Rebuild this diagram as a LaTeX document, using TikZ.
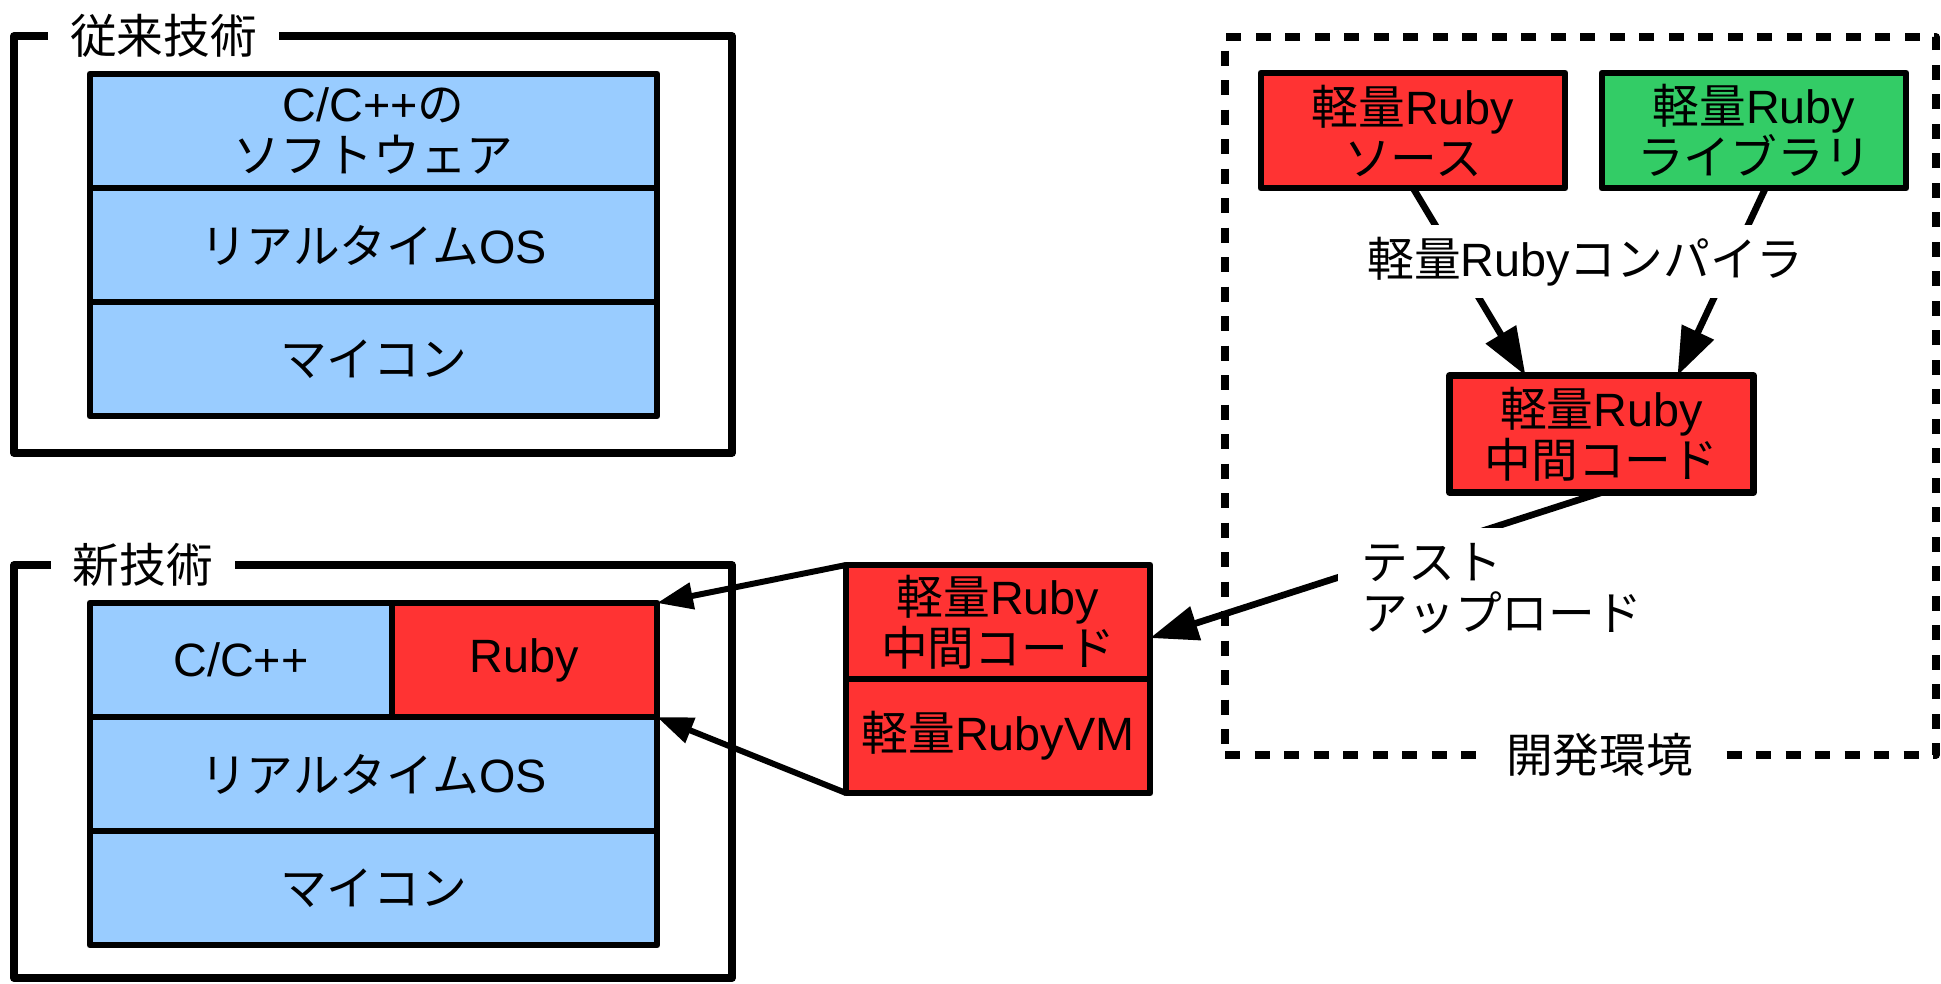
\documentclass[tikz,border=0pt]{standalone}
\usepackage{fontspec}
\setmainfont{Liberation Sans}
\newfontfamily\jp{Noto Sans CJK JP}
\usetikzlibrary{arrows.meta, positioning, calc}
\definecolor{layerblue}{HTML}{99CCFF}
\definecolor{rubyred}{HTML}{FF3333}
\definecolor{libgreen}{HTML}{33CC66}
\tikzset{
  layer/.style = {draw, line width=1.9pt, fill=layerblue, outer sep=0pt,
                  inner sep=0pt, align=center, minimum width=5.67cm,
                  minimum height=1.14cm, line join=round},
  part/.style  = {layer, fill=rubyred, minimum width=3.04cm},
  frame/.style = {draw, line width=2.2pt, line join=round, outer sep=0pt},
  title/.style = {fill=white, inner xsep=0.22cm, inner ysep=1pt},
  tag/.style   = {fill=white, align=left},
  flow/.style  = {-{Triangle[length=4.8mm, width=3.4mm]}, line width=1.9pt},
  feed/.style  = {-{Triangle[length=3.6mm, width=2.6mm]}, line width=1.7pt}
}

\begin{document}
\begin{tikzpicture}[font=\fontsize{13.3}{14.5}\selectfont]
\useasboundingbox (0,0) rectangle (19.41,-9.83);

% Frames
\node (oldtech) [frame, minimum width=7.18cm, minimum height=4.17cm] at (3.73,-2.445) {};
\node (newtech) [frame, minimum width=7.18cm, minimum height=4.13cm] at (3.73,-7.715) {};
\node (devenv) [frame, dash pattern=on 1.5mm off 1.45mm, line width=2.1pt,
                minimum width=7.11cm, minimum height=7.18cm] at (15.805,-3.96) {};
\node[title] at ($(oldtech.north west)+(1.495,0)$) {\jp 従来技術};
\node[title] at ($(newtech.north west)+(1.29,0)$) {\jp 新技術};
\node[title] at ($(devenv.south)+(0.19,0)$) {\jp 開発環境};

% Old stack
\node (sw1) [layer] at (3.735,-1.31) {C/C++{\jp の}\\{\jp ソフトウェア}};
\node (rtos1) [layer, below=0pt of sw1] {{\jp リアルタイム}OS};
\node (mcu1) [layer, below=0pt of rtos1] {\jp マイコン};

% New stack
\node (cpp) [layer, minimum width=3.02cm] at (2.41,-6.60) {C/C++};
\node (ruby) [layer, fill=rubyred, minimum width=2.65cm, right=0pt of cpp] {Ruby};
\node (rtos2) [layer, anchor=north west] at (cpp.south west) {{\jp リアルタイム}OS};
\node (mcu2) [layer, below=0pt of rtos2] {\jp マイコン};

% Target side
\node (code) [part] at (9.98,-6.22) {{\jp 軽量}Ruby\\{\jp 中間コード}};
\node (vm) [part, below=0pt of code] {{\jp 軽量}RubyVM};

% Development side
\node (src) [part, minimum height=1.15cm] at (14.13,-1.305) {{\jp 軽量}Ruby\\{\jp ソース}};
\node (lib) [part, minimum height=1.15cm, fill=libgreen, right=0.37cm of src]
  {{\jp 軽量}Ruby\\{\jp ライブラリ}};
\node (inter) [part, minimum height=1.17cm] at (16.015,-4.34) {{\jp 軽量}Ruby\\{\jp 中間コード}};

% Connectors
\draw[flow] (src.south) -- ($(inter.north)+(-0.76,0)$);
\draw[flow] ($(lib.south)+(0.115,0)$) -- ($(inter.north)+(0.76,0)$);
\draw[flow] (inter.south) -- ($(code.east)+(0,-0.16)$);
\draw[feed] (code.north west) -- (ruby.north east);
\draw[feed] (vm.south west) -- (ruby.south east);

% Labels over the connectors
\node (cc) [tag, minimum height=0.73cm, inner xsep=2pt, inner ysep=1pt] at (15.855,-2.615)
  {{\jp 軽量}Ruby{\jp コンパイラ}};
\node (upload) [tag, anchor=north west, inner xsep=0.24cm, inner ysep=0.16cm] at (13.37,-5.27)
  {{\jp テスト}\\{\jp アップロード}};
\end{tikzpicture}
\end{document}
